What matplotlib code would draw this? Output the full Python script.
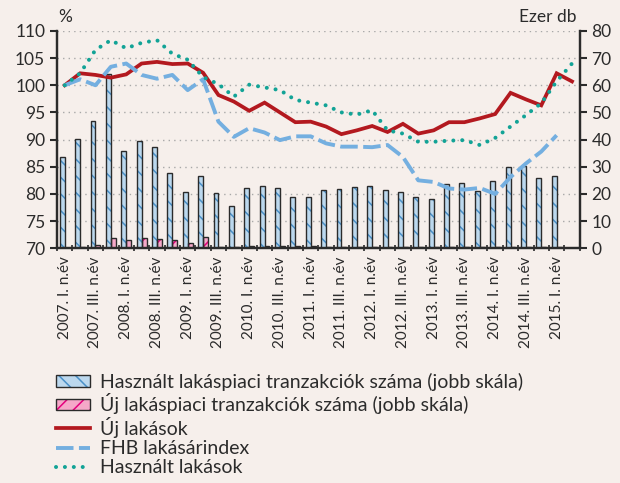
import matplotlib
matplotlib.use("Agg")
import matplotlib.pyplot as plt
import numpy as np
from matplotlib.legend_handler import HandlerTuple

plt.rcParams['font.family'] = ['Lato', 'DejaVu Sans']
plt.rcParams['hatch.linewidth'] = 1.1

# ---- DATA ----
years = list(range(2007, 2016))
quarters = [f"{y}. {q} n.év" for y in years for q in ["I.", "II.", "III.", "IV."]][:34]
tick_labels = [q if i % 2 == 0 else "" for i, q in enumerate(quarters)]

# right scale, thousand pcs (last quarter has no bar)
used_tx = [33.7, 40.1, 46.9, 64.1, 35.8, 39.4, 37.4, 27.6, 20.8, 26.6,
           20.2, 15.7, 22.1, 22.9, 22.1, 19.0, 18.7, 21.4, 21.8, 22.4,
           22.9, 21.4, 20.6, 18.7, 18.0, 23.5, 24.1, 21.1, 24.9, 30.0,
           30.4, 26.0, 26.6, np.nan]
new_tx = [0.2, 0.3, 1.2, 3.7, 3.1, 3.7, 3.3, 3.1, 2.1, 4.0,
          0.6, 0.6, 1.0, 1.0, 1.0, 1.0, 0.7, 0.6, 0.6, 0.6,
          0.6, 0.3, 0.3, 0.3, 0.3, 0.3, 0.3, 0.3, 0.3, 0.6,
          0.6, 0.6, 0.3, np.nan]

# left scale, %
new_homes = [100.0, 102.2, 101.9, 101.4, 102.0, 104.0, 104.3, 103.9, 104.0, 102.3,
             98.2, 97.0, 95.3, 96.8, 95.0, 93.2, 93.3, 92.4, 91.0, 91.7,
             92.5, 91.4, 92.9, 91.1, 91.7, 93.2, 93.2, 93.9, 94.7, 98.6,
             97.4, 96.3, 102.2, 100.7]
fhb_index = [100.0, 101.1, 100.0, 103.4, 104.0, 101.9, 101.2, 101.9, 99.1, 101.1,
             93.3, 90.5, 92.1, 91.3, 89.9, 90.6, 90.6, 89.3, 88.7, 88.7,
             88.6, 89.0, 86.8, 82.5, 82.2, 81.0, 80.8, 81.1, 80.0, 83.1,
             85.6, 87.8, 90.8, np.nan]
used_homes = [100.0, 102.2, 106.5, 108.3, 106.8, 107.8, 108.3, 105.8, 104.7, 101.5,
              100.2, 97.9, 100.1, 99.6, 99.1, 97.3, 96.8, 96.3, 95.0, 94.6,
              95.4, 91.7, 91.1, 89.6, 89.6, 89.8, 89.9, 89.0, 90.3, 92.4,
              94.5, 96.7, 100.7, 104.0]

# ---- COLOURS ----
bg = "#f6efeb"
dark = "#2b2b2b"
blue_fill, blue_hatch = "#bcd8ee", "#4a90c8"
pink_fill, pink_hatch = "#f5a8c8", "#e5007d"
red = "#b3191f"
lblue = "#74afe0"
teal = "#12a396"

# ---- FIGURE ----
fig = plt.figure(figsize=(6.2, 4.83), dpi=100, facecolor=bg)
ax = fig.add_axes([0.092, 0.486, 0.843, 0.45])
ax2 = ax.twinx()
ax.set_zorder(ax2.get_zorder() + 1)
ax.patch.set_visible(False)
ax2.set_facecolor(bg)

x = np.arange(len(quarters))
w = 0.32

# bars on the right scale: hatch layer + outline layer
b1 = ax2.bar(x - w / 2, used_tx, w, color=blue_fill, edgecolor=blue_hatch,
             hatch="\\\\", linewidth=0, zorder=2)
b1o = ax2.bar(x - w / 2, used_tx, w, fill=False, edgecolor=dark, linewidth=1.0, zorder=3)
b2 = ax2.bar(x + w / 2, new_tx, w, color=pink_fill, edgecolor=pink_hatch,
             hatch="//", linewidth=0, zorder=2)
b2o = ax2.bar(x + w / 2, new_tx, w, fill=False, edgecolor=dark, linewidth=1.0, zorder=3)

# lines on the left scale
l1, = ax.plot(x, new_homes, color=red, lw=2.7, solid_joinstyle="miter")
l2, = ax.plot(x, fhb_index, color=lblue, lw=2.8, linestyle=(0, (4.5, 1.4)))
l3, = ax.plot(x, used_homes, color=teal, lw=2.9, linestyle=(0, (0.01, 2.2)),
              dash_capstyle="round")

# ---- AXES ----
ax.set_xlim(-0.5, len(quarters) - 0.5)
ax.set_ylim(70, 110)
ax.set_yticks(np.arange(70, 111, 5))
ax2.set_ylim(0, 80)
ax2.set_yticks(np.arange(0, 81, 10))

ax2.grid(axis="y", color="#a8a8a8", linestyle=(0, (1, 3)), linewidth=1.0)
ax2.set_axisbelow(True)

ax.set_xticks(x)
ax.set_xticklabels(tick_labels, rotation=90, fontsize=11, color=dark)
ax.set_xticks(np.arange(-0.5, len(quarters), 1), minor=True)
ax.tick_params(axis="x", which="major", length=0, pad=6)
ax.tick_params(axis="x", which="minor", length=4, width=1.2, color=dark, direction="inout")
ax.tick_params(axis="y", labelsize=12.5, length=5, width=1.5, color=dark, labelcolor=dark)
ax2.tick_params(axis="y", labelsize=12.5, length=5, width=1.5, color=dark, labelcolor=dark)

for a in (ax, ax2):
    a.spines["top"].set_visible(False)
    for s in ("left", "right", "bottom"):
        a.spines[s].set_color(dark)
        a.spines[s].set_linewidth(1.6)

fig.text(0.105, 0.955, "%", fontsize=12.5, color=dark, ha="center")
fig.text(0.93, 0.955, "Ezer db", fontsize=12.5, color=dark, ha="right")

# ---- LEGEND ----
handles = [(b1[0], b1o[0]), (b2[0], b2o[0]), l1, l2, l3]
labels = ["Használt lakáspiaci tranzakciók száma (jobb skála)",
          "Új lakáspiaci tranzakciók száma (jobb skála)",
          "Új lakások", "FHB lakásárindex", "Használt lakások"]
fig.legend(handles, labels, loc="upper left", bbox_to_anchor=(0.09, 0.228),
           frameon=False, fontsize=14, handlelength=1.75, handleheight=0.55,
           handletextpad=0.5, labelspacing=0.12, borderaxespad=0, borderpad=0,
           handler_map={tuple: HandlerTuple(ndivide=1, pad=0)},
           labelcolor=dark)

fig.savefig("out.png", dpi=100, facecolor=bg)
